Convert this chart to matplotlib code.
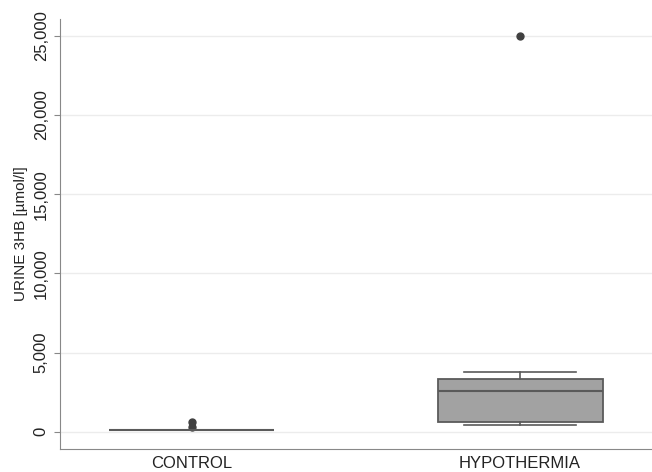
import matplotlib
matplotlib.use("Agg")
import matplotlib.pyplot as plt

plt.rcParams['font.family'] = ['Liberation Sans', 'DejaVu Sans']

# group labels and box statistics (umol/l)
groups = ["CONTROL", "HYPOTHERMIA"]
whislo = [130, 440]
q1 = [130, 630]
med = [130, 2590]
q3 = [130, 3350]
whishi = [130, 3800]
fliers = [[600, 280], [25000]]

yticks = [0, 5000, 10000, 15000, 20000, 25000]

stats = []
for i in range(len(groups)):
    stats.append(dict(label=groups[i], whislo=whislo[i], q1=q1[i], med=med[i],
                      q3=q3[i], whishi=whishi[i], fliers=fliers[i]))

fig = plt.figure(figsize=(6.52, 4.72), dpi=100)
ax = fig.add_axes([0.092, 0.049, 0.908, 0.911])

edge = '#5a5a5a'
ax.bxp(stats, positions=[0, 1], widths=0.503, patch_artist=True,
       boxprops=dict(facecolor='#a2a2a2', edgecolor=edge, linewidth=1.3),
       medianprops=dict(color=edge, linewidth=1.5),
       whiskerprops=dict(color=edge, linewidth=1.2),
       capprops=dict(color=edge, linewidth=1.2),
       capwidths=0.34,
       flierprops=dict(marker='o', markerfacecolor='#404040', markeredgecolor='#404040',
                       markersize=5))

ax.set_xlim(-0.402, 1.402)
ax.set_ylim(-1073, 26070)
ax.set_yticks(yticks)
ax.set_yticklabels(["{:,}".format(t) for t in yticks], rotation=90, va='center',
                   fontsize=12, color='#222222')
ax.yaxis.grid(True, color='#ececec', linewidth=1)
ax.set_axisbelow(True)
ax.tick_params(axis='x', length=0, labelsize=12, pad=5, labelcolor='#222222')
ax.tick_params(axis='y', length=4, color='#888888', pad=4)
ax.set_ylabel("URINE 3HB [µmol/l]", fontsize=11, color='#222222', labelpad=4)

for s in ['top', 'right']:
    ax.spines[s].set_visible(False)
ax.spines['left'].set_color('#888888')
ax.spines['bottom'].set_color('#888888')

fig.savefig("out.png", dpi=100)
